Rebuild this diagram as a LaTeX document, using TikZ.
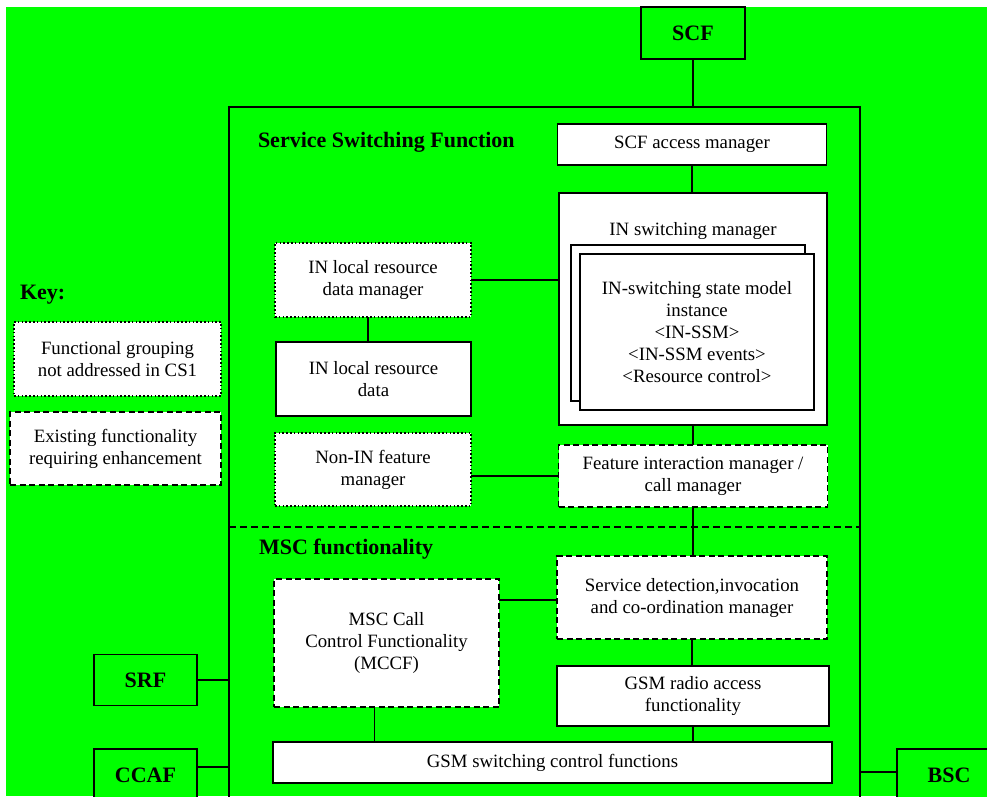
\documentclass[tikz,border=0pt]{standalone}
\usepackage{fontspec}
\setmainfont{Liberation Serif}
\begin{document}
\begin{tikzpicture}[x=1pt,y=-1pt,
  every node/.style={outer sep=0pt,inner sep=0pt,font=\fontsize{18.8}{22}\selectfont},
  box/.style={draw,line width=1.4pt,fill=white,align=center},
  solidbox/.style={box},
  dotbox/.style={box,dash pattern=on 1.6pt off 2.2pt},
  dashbox/.style={box,dash pattern=on 6pt off 3.5pt},
  ext/.style={draw,line width=1.5pt,fill=bggreen,font=\fontsize{22}{26}\selectfont\bfseries},
  heading/.style={anchor=west,font=\fontsize{22}{26}\selectfont\bfseries},
  link/.style={line width=1.7pt},
]
\definecolor{bggreen}{RGB}{0,255,0}
\useasboundingbox (0,0) rectangle (987,796);
\clip (0,0) rectangle (987,796);
\fill[white] (0,0) rectangle (987,796);
\fill[bggreen] (6,7) rectangle (987,796);

% frame of the service switching / MSC area
\coordinate (fl) at (229,107);
\coordinate (fr) at (860,107);
\draw[line width=1.6pt] (229,800) -- (fl) -- (fr) -- (860,800);
\draw[line width=1.6pt,dash pattern=on 7pt off 4pt] (fl |- 0,527) -- (fr |- 0,527);

% external functional entities
\node[ext,minimum width=104,minimum height=52] (scf) at (693,33) {SCF};
\node[ext,minimum width=103,minimum height=51] (srf) at (145.5,680) {SRF};
\node[ext,minimum width=103,minimum height=52] (ccaf) at (145.5,775) {CCAF};
\node[ext,minimum width=104,minimum height=52] (bsc) at (949,775) {BSC};

% headings
\node[heading] (ssfhead) at (258,142) {Service Switching Function};
\node[heading] (mschead) at (259,549) {MSC functionality};
\node[heading] (keyhead) at (20,295) {Key:};

% key
\node[dotbox,minimum width=207,minimum height=74] (key1) at (117.5,359) {Functional grouping\\not addressed in CS1};
\node[dashbox,minimum width=211,minimum height=73] (key2) at (115.5,448.5) {Existing functionality\\requiring enhancement};

% service switching function
\node[solidbox,minimum width=269,minimum height=41] (scfam) at (692,144.5) {SCF access manager};
\node[solidbox,minimum width=268,minimum height=232] (insm) at (693,309) {};
\node (insmlabel) at (693,231) {IN switching manager};
\node[solidbox,minimum width=234,minimum height=156] (ssmback) at (688,323) {};
\node[solidbox,minimum width=234,minimum height=156] (ssm) at (697,332)
  {IN-switching state model\\instance\\<IN-SSM>\\<IN-SSM events>\\<Resource control>};
\node[dotbox,minimum width=196,minimum height=74] (lrdm) at (373,280) {IN local resource\\data manager};
\node[solidbox,minimum width=195,minimum height=74] (lrd) at (373.5,379) {IN local resource\\data};
\node[dotbox,minimum width=196,minimum height=73] (nonin) at (373,469.5) {Non-IN feature\\manager};
\node[dashbox,minimum width=269,minimum height=62] (fim) at (693,476) {Feature interaction manager /\\call manager};

% MSC functionality
\node[dashbox,minimum width=270,minimum height=83] (sdm) at (692,597.5) {Service detection,invocation\\and co-ordination manager};
\node[dashbox,minimum width=225,minimum height=128] (mccf) at (386.5,643) {MSC Call\\Control Functionality\\(MCCF)};
\node[solidbox,minimum width=272,minimum height=60] (gra) at (693,696) {GSM radio access\\functionality};
\node[solidbox,minimum width=559,minimum height=41] (gsc) at (552.5,762.5) {GSM switching control functions};

% connectors
\draw[link] (scf.south) -- (scf.south |- fl);
\draw[link] (scfam.south) -- (scfam.south |- insm.north);
\draw[link] (lrdm.east) -- (lrdm.east -| insm.west);
\draw[link] ([xshift=-5pt]lrdm.south) -- ([xshift=-5pt]lrdm.south |- lrd.north);
\draw[link] (fim.west) -- (fim.west -| nonin.east);
\draw[link] (insm.south) -- (insm.south |- fim.north);
\draw[link] (fim.south) -- (fim.south |- sdm.north);
\draw[link] ([yshift=-2.5pt]sdm.west) -- ([yshift=-2.5pt]sdm.west -| mccf.east);
\draw[link] ([xshift=-12pt]mccf.south) -- ([xshift=-12pt]mccf.south |- gsc.north);
\draw[link] (sdm.south) -- (sdm.south |- gra.north);
\draw[link] (gra.south) -- (gra.south |- gsc.north);
\draw[link] (srf.east) -- (srf.east -| fl);
\draw[link] ([yshift=8pt]ccaf.east) -- ([yshift=8pt]ccaf.east -| fl);
\draw[link] ([yshift=3pt]bsc.west) -- ([yshift=3pt]bsc.west -| fr);
\end{tikzpicture}
\end{document}
